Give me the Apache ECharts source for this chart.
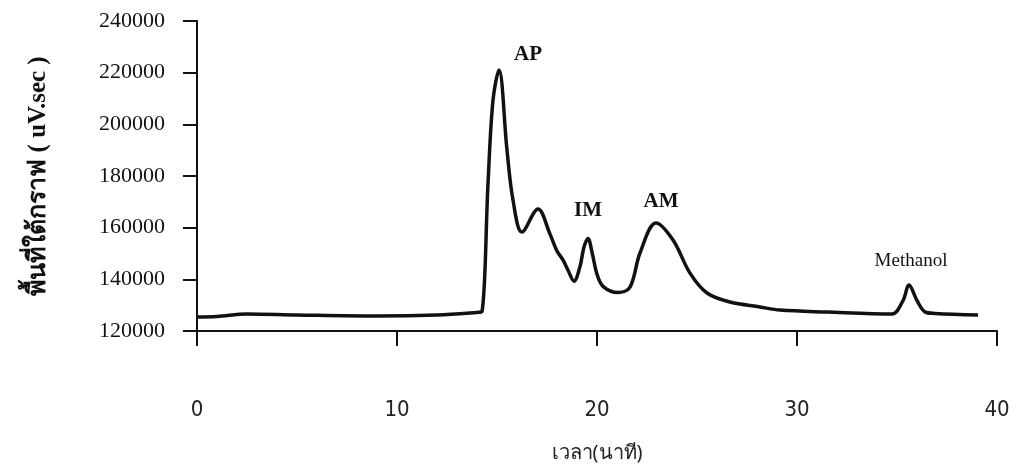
<!DOCTYPE html>
<html>
<head>
<meta charset="utf-8">
<script src="https://cdn.jsdelivr.net/npm/echarts@6/dist/echarts.min.js"></script>
<style>
  html, body { margin: 0; padding: 0; background: #fff; }
  #chart { width: 1017px; height: 470px; }
</style>
</head>
<body>
<div id="chart"></div>
<script>
// เวลา (นาที) และ พื้นที่ใต้กราฟ (uV.sec) อ่านจากรูป
var timeMin = [0, 1, 2.5, 5, 9, 12, 14, 14.25, 14.55, 14.8, 15.1, 15.5, 15.8, 16.25, 17.05, 17.65, 18.0, 18.3, 18.55,
               18.85, 19.15, 19.35, 19.55, 19.75, 20.0, 20.3, 21.05, 21.65, 22.15, 22.95, 23.8, 24.65, 25.5, 26.65,
               28.15, 29.15, 31.5, 34.75, 35.3, 35.6, 36.0, 36.4, 36.9, 39.05];
var areaVal = [125400, 125600, 126600, 126200, 125800, 126200, 127200, 127500, 177000, 209400, 221000, 190000, 170700,
               158300, 167200, 157500, 151000, 147500, 143500, 139300, 145000, 152500, 155800, 150500, 142000, 137300,
               134900, 137000, 150200, 161800, 155200, 142400, 134700, 131200, 129300, 128100, 127350, 126600, 131800,
               137800, 131800, 127400, 126800, 126200];

// ชื่อพีค
var peakNames = ['AP', 'IM', 'AM', 'Methanol'];
var peakIndex = [10, 22, 29, 39];

var xTicks = [0, 10, 20, 30, 40];
var yTicks = [120000, 140000, 160000, 180000, 200000, 220000, 240000];

var seriesData = timeMin.map(function (t, i) { return [t, areaVal[i]]; });

var labelOffsets = [[29, -16], [0, -28], [5, -21], [2, -24]];
var peakMarks = peakNames.map(function (n, i) {
    var k = peakIndex[i];
    var big = n !== 'Methanol';
    return {
        name: n,
        coord: [timeMin[k], areaVal[k]],
        label: {
            show: true,
            formatter: n,
            offset: labelOffsets[i],
            fontFamily: 'Liberation Serif',
            fontWeight: big ? 'bold' : 'normal',
            fontSize: big ? 21 : 19,
            color: '#111'
        }
    };
});

var chart = echarts.init(document.getElementById('chart'));
chart.setOption({
    backgroundColor: '#fff',
    animation: false,
    grid: { left: 197, right: 20, top: 21, bottom: 139 },
    xAxis: {
        type: 'value',
        min: xTicks[0],
        max: xTicks[xTicks.length - 1],
        interval: 10,
        name: 'เวลา(นาที)',
        nameLocation: 'middle',
        nameGap: 112,
        nameTextStyle: { fontFamily: 'Noto Sans, DejaVu Sans, sans-serif', fontSize: 20, color: '#222' },
        axisLine: { onZero: false, lineStyle: { color: '#111', width: 2 } },
        axisTick: { show: true, length: 15, lineStyle: { color: '#111', width: 2 } },
        axisLabel: { margin: 68, fontFamily: 'DejaVu Sans Condensed, Noto Sans, sans-serif', fontSize: 22, color: '#222' },
        splitLine: { show: false }
    },
    yAxis: {
        type: 'value',
        min: yTicks[0],
        max: yTicks[yTicks.length - 1],
        interval: 20000,
        name: 'พื้นที่ใต้กราฟ ( uV.sec )',
        nameLocation: 'middle',
        nameGap: 146,
        nameTextStyle: { fontFamily: 'Liberation Serif, Noto Sans, sans-serif', fontWeight: 'bold', fontSize: 25, color: '#111' },
        axisLine: { show: true, lineStyle: { color: '#111', width: 2 } },
        axisTick: { show: true, length: 14, lineStyle: { color: '#111', width: 2 } },
        axisLabel: {
            margin: 32,
            fontFamily: 'Liberation Serif',
            fontSize: 22,
            color: '#111',
            formatter: function (v) { return String(v); }
        },
        splitLine: { show: false }
    },
    series: [{
        type: 'line',
        data: seriesData,
        smooth: 0.35,
        symbol: 'none',
        lineStyle: { color: '#111', width: 3.5 },
        markPoint: {
            symbol: 'circle',
            symbolSize: 0,
            data: peakMarks
        }
    }]
});
</script>
</body>
</html>
